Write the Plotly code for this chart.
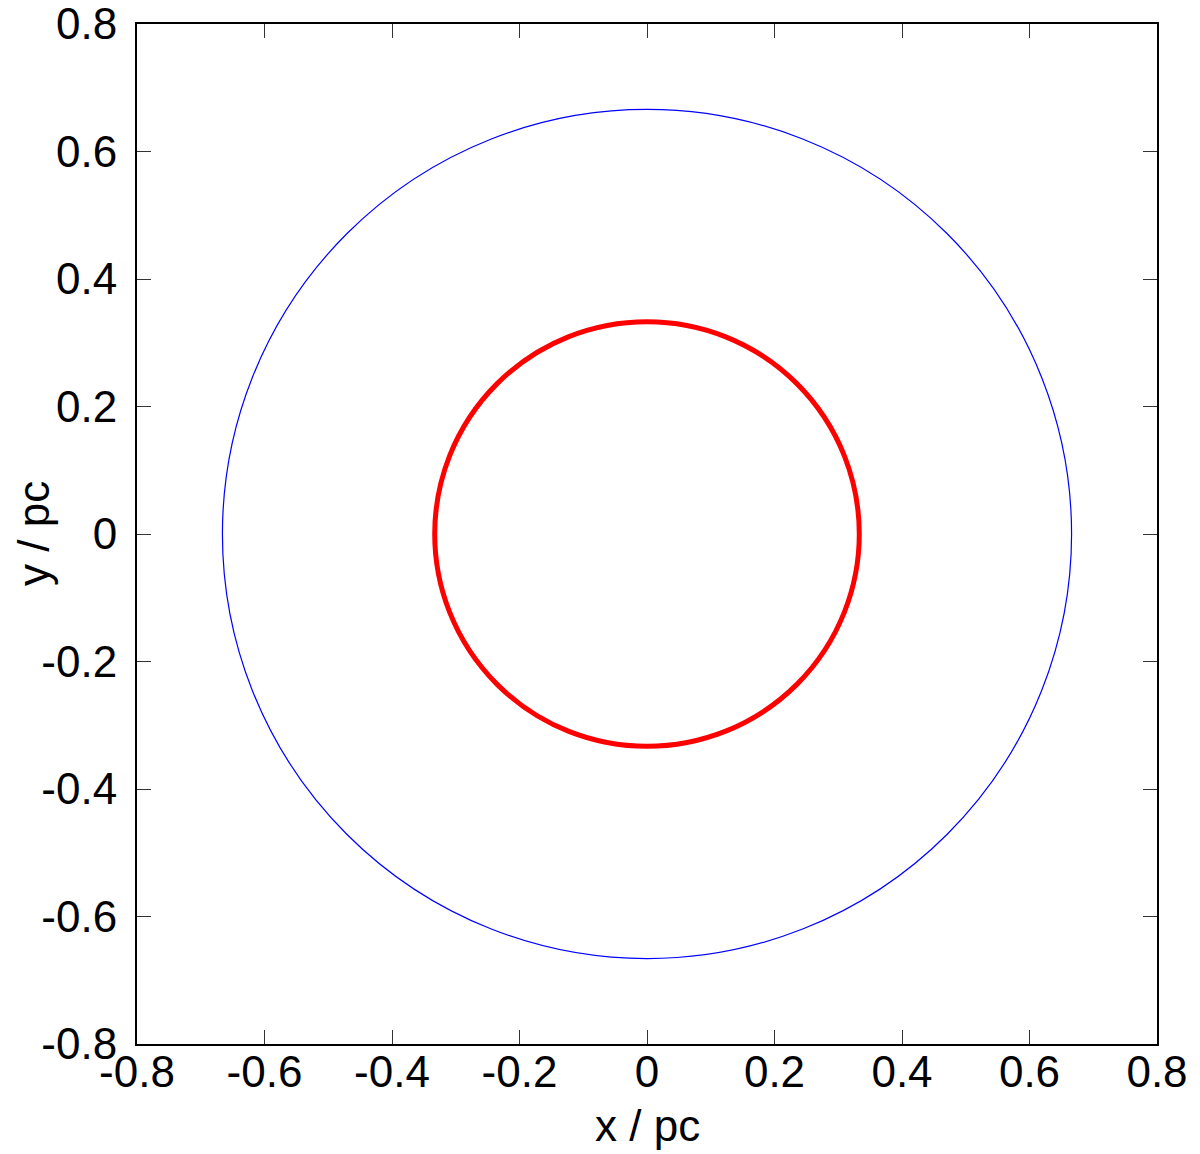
import plotly.graph_objects as go

# Data
circle_names = ["outer", "inner"]
circle_radii = [0.666, 0.333]          # pc
circle_colors = ["#0000ff", "#ff0000"]
circle_widths = [1.2, 5]
tick_vals = [-0.8, -0.6, -0.4, -0.2, 0, 0.2, 0.4, 0.6, 0.8]
tick_text = ["-0.8", "-0.6", "-0.4", "-0.2", "0", "0.2", "0.4", "0.6", "0.8"]
x_title = "x / pc"
y_title = "y / pc"

fig = go.Figure()
# invisible trace so axes render
fig.add_trace(go.Scatter(x=[0], y=[0], mode="markers", marker=dict(opacity=0),
                         showlegend=False, hoverinfo="skip"))

for name, r, c, w in zip(circle_names, circle_radii, circle_colors, circle_widths):
    fig.add_shape(type="circle", xref="x", yref="y", x0=-r, x1=r, y0=-r, y1=r,
                  line=dict(color=c, width=w), name=name)

font = dict(family="Liberation Sans, Arial, sans-serif", size=44, color="black")
axis_common = dict(
    range=[-0.8, 0.8], tickvals=tick_vals, ticktext=tick_text,
    showline=True, linecolor="black", linewidth=2, mirror="ticks",
    ticks="inside", ticklen=14, tickwidth=1, tickcolor="#333333",
    showgrid=False, zeroline=False, tickfont=font,
    automargin=False, ticklabeloverflow="allow",
)

# page body has an 8px margin, so the figure is offset by 8px
fig.update_layout(
    width=1192, height=1146,
    margin=dict(l=129, r=43, t=16, b=110),
    paper_bgcolor="white", plot_bgcolor="white",
    showlegend=False,
    xaxis=dict(**axis_common, ticklabelstandoff=-12),
    yaxis=dict(**axis_common, ticklabelstandoff=9),
)

fig.add_annotation(text=x_title, xref="x", yref="paper", x=0, y=0, yshift=-81,
                   xanchor="center", yanchor="middle", showarrow=False, font=font)
fig.add_annotation(text=y_title, xref="paper", yref="y", x=0, y=0, xshift=-104,
                   xanchor="center", yanchor="middle", textangle=-90, showarrow=False, font=font)

fig.write_html("out.html")
